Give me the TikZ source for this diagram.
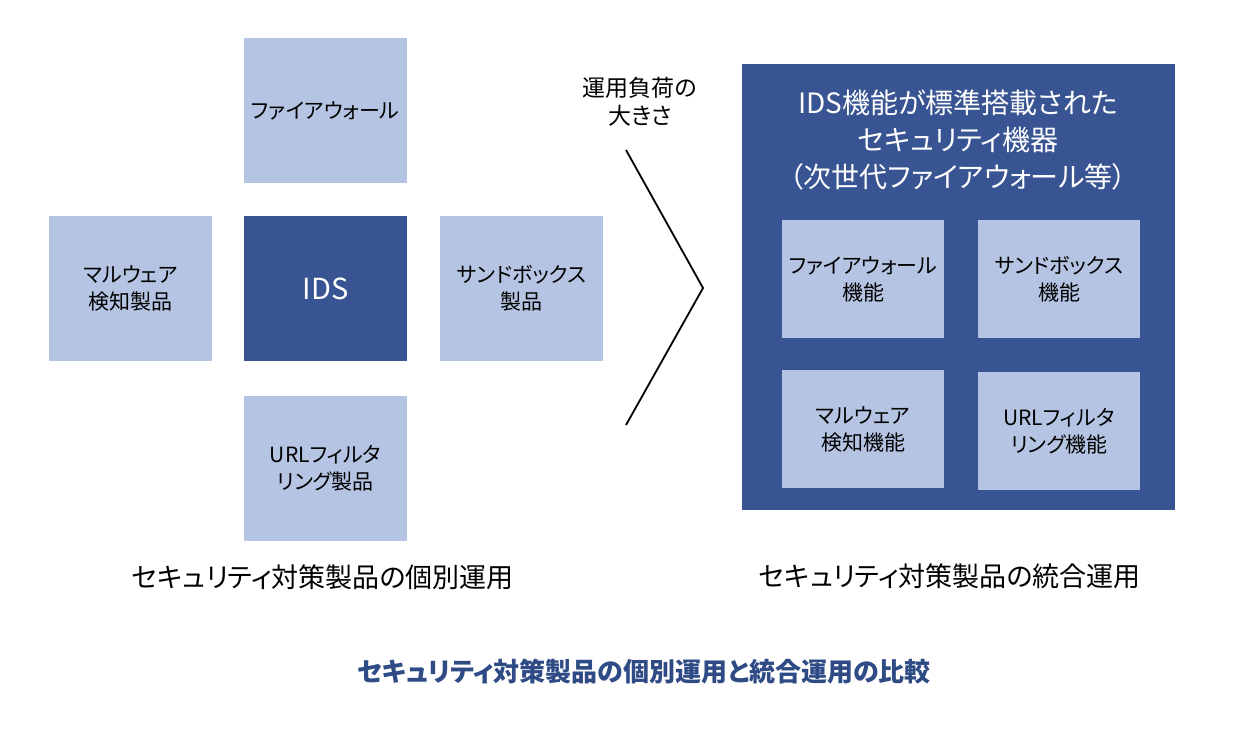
\documentclass[tikz,border=0pt]{standalone}
\usepackage{fontspec}
\setmainfont{Noto Sans CJK JP}[RawFeature=+palt]
\definecolor{lightb}{HTML}{B4C4E2}
\definecolor{darkb}{HTML}{385492}
\definecolor{captb}{HTML}{2F4B85}
\begin{document}
\begin{tikzpicture}[x=1pt,y=-1pt,
  lbox/.style={fill=lightb,draw=none,inner sep=0pt,outer sep=0pt,anchor=north west,align=center,text=black,font=\fontsize{21}{27}\selectfont},
  dbox/.style={fill=darkb,draw=none,inner sep=0pt,outer sep=0pt,anchor=north west,align=center,text=white},
  bigbox/.style={minimum width=163pt,minimum height=145pt},
  smallbox/.style={minimum width=162pt,minimum height=118pt},
  captext/.style={font=\fontsize{27}{32}\selectfont,text=black}]
\useasboundingbox (0,0) rectangle (1246,732);
% left side
\node[lbox,bigbox] (fw) at (244,38) {ファイアウォール};
\node[lbox,bigbox] (mw) at (49,216) {マルウェア\\検知製品};
\node[dbox,bigbox,font=\fontsize{29}{30}\selectfont] (ids) at (244,216) {IDS};
\node[lbox,bigbox] (sb) at (440,216) {サンドボックス\\製品};
\node[lbox,bigbox] (url) at (244,396) {URLフィルタ\\リング製品};
\node[captext] (capl) at (323,577) {セキュリティ対策製品の個別運用};
% load label and chevron
\node[font=\fontsize{23}{28}\selectfont,align=center] (load) at (640,102) {運用負荷の\\大きさ};
\coordinate (c1) at (626,150);
\coordinate (c2) at (703,288);
\coordinate (c3) at (626,425);
\draw[line width=1.8pt] (c1) -- (c2) -- (c3);
% right side
\node[dbox,minimum width=433pt,minimum height=446pt] (int) at (742,64) {};
\node[text=white,align=center,font=\fontsize{28}{37}\selectfont] (title) at (958,140) {IDS機能が標準搭載された\\セキュリティ機器\\（次世代ファイアウォール等）};
\node[lbox,smallbox] (ifw) at (782,220) {ファイアウォール\\機能};
\node[lbox,smallbox] (isb) at (978,220) {サンドボックス\\機能};
\node[lbox,smallbox] (imw) at (782,370) {マルウェア\\検知機能};
\node[lbox,smallbox] (iurl) at (978,372) {URLフィルタ\\リング機能};
\node[captext] (capr) at (950,576) {セキュリティ対策製品の統合運用};
\node[font=\fontsize{26}{30}\selectfont\bfseries,text=captb] (caption) at (644,672) {セキュリティ対策製品の個別運用と統合運用の比較};
\end{tikzpicture}
\end{document}
